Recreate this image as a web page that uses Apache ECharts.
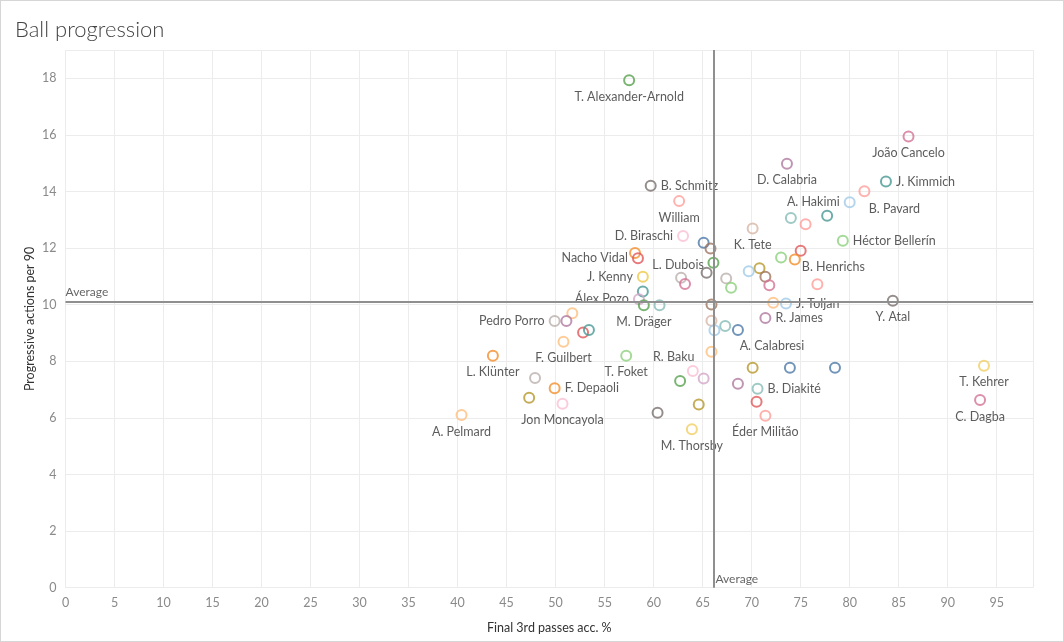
<!DOCTYPE html>
<html>
<head>
<meta charset="utf-8">
<script src="https://cdn.jsdelivr.net/npm/echarts@6/dist/echarts.min.js"></script>
<style>
html,body{margin:0;padding:0;background:#fff;}
#frame{position:absolute;left:0;top:0;width:1062px;height:640px;border:1px solid #d6d6d6;}
#chart{position:absolute;left:0;top:0;width:1064px;height:642px;}
</style>
</head>
<body>
<div id="frame"></div>
<div id="chart"></div>
<script>
// ---- data ----
const players = ["T. Alexander-Arnold","João Cancelo","D. Calabria","J. Kimmich","B. Schmitz","B. Pavard","A. Hakimi","William","","","","K. Tete","Héctor Bellerín","D. Biraschi","","","","Nacho Vidal","","","B. Henrichs","L. Dubois","","","","","","J. Kenny","","","","","","","Álex Pozo","M. Dräger","","","","J. Toljan","Y. Atal","","Pedro Porro","","","","F. Guilbert","","","","A. Calabresi","R. James","L. Klünter","T. Foket","R. Baku","","","","","","","","B. Diakité","","","","Éder Militão","M. Thorsby","","F. Depaoli","","Jon Moncayola","A. Pelmard","T. Kehrer","C. Dagba"];
const finalThirdPassAcc = [57.5,86.0,73.6,83.7,59.7,81.5,80.0,62.6,77.7,74.0,75.5,70.1,79.3,63.0,65.1,65.8,58.1,58.4,66.1,75.0,74.4,62.8,73.0,70.8,69.7,71.4,65.4,58.9,67.4,63.2,71.8,76.7,67.9,58.9,58.5,59.0,60.6,65.9,72.2,73.5,84.4,51.7,49.9,51.1,52.8,53.4,50.8,65.9,66.2,67.3,68.6,71.4,43.6,57.2,65.9,64.0,65.1,62.7,70.1,73.9,78.5,68.6,70.6,70.5,64.6,60.4,71.4,63.9,47.9,49.9,47.3,50.7,40.4,93.7,93.3];
const progActionsPer90 = [17.93,15.94,14.98,14.35,14.20,14.01,13.62,13.66,13.14,13.06,12.84,12.69,12.26,12.43,12.19,11.99,11.83,11.64,11.48,11.91,11.60,10.95,11.67,11.29,11.18,10.99,11.13,10.99,10.93,10.73,10.69,10.72,10.60,10.47,10.19,9.98,9.98,10.01,10.07,10.04,10.14,9.70,9.42,9.42,9.02,9.11,8.69,9.43,9.10,9.25,9.11,9.53,8.20,8.20,8.34,7.66,7.39,7.30,7.77,7.77,7.77,7.21,7.03,6.57,6.47,6.18,6.08,5.60,7.41,7.05,6.71,6.50,6.10,7.84,6.63];
const averageX = 66.1;
const averageY = 10.11;
const xTicks = {min: 0, max: 98.7, interval: 5};
const yTicks = {min: 0, max: 19, interval: 2};

// ---- styles ----
const pointColors = ["#59a14f","#d37295","#b07aa1","#499894","#79706e","#ff9d9a","#a0cbe8","#ff9d9a","#499894","#86bcb6","#ff9d9a","#d7b5a6","#8cd17d","#fabfd2","#4e79a7","#9d7660","#f28e2b","#e15759","#59a14f","#e15759","#f28e2b","#bab0ac","#8cd17d","#b6992d","#a0cbe8","#9d7660","#79706e","#edc948","#bab0ac","#d37295","#d37295","#ff9d9a","#8cd17d","#499894","#d4a6c8","#59a14f","#86bcb6","#9d7660","#ffbe7d","#a0cbe8","#79706e","#ffbe7d","#bab0ac","#b07aa1","#e15759","#499894","#ffbe7d","#d7b5a6","#a0cbe8","#86bcb6","#4e79a7","#b07aa1","#f28e2b","#8cd17d","#ffbe7d","#fabfd2","#d4a6c8","#59a14f","#b6992d","#4e79a7","#4e79a7","#b07aa1","#86bcb6","#e15759","#b6992d","#79706e","#ff9d9a","#f1ce63","#bab0ac","#f28e2b","#b6992d","#fabfd2","#ffbe7d","#f1ce63","#d37295"];
const labelPlacement = {
  "J. Kimmich": ["right"], "B. Schmitz": ["right"], "Héctor Bellerín": ["right"],
  "J. Toljan": ["right"], "R. James": ["right"], "B. Diakité": ["right"], "F. Depaoli": ["right"],
  "B. Henrichs": ["right", [-3, 8]],
  "A. Hakimi": ["left"], "D. Biraschi": ["left"], "Nacho Vidal": ["left"], "J. Kenny": ["left"],
  "Álex Pozo": ["left"], "Pedro Porro": ["left"], "R. Baku": ["left", [-7, 5]],
  "B. Pavard": ["bottom", [30, 1]], "A. Calabresi": ["bottom", [34, 0]],
  "L. Dubois": ["top", [-3, 4]]
};

const FONT = "Lato, 'Open Sans', sans-serif";
const data = players.map((n, i) => {
  const pl = labelPlacement[n] || ["bottom"];
  return {
    name: n,
    value: [finalThirdPassAcc[i], progActionsPer90[i]],
    itemStyle: {color: 'rgba(255,255,255,0)', borderColor: pointColors[i], borderWidth: 2},
    label: {show: n !== "", position: pl[0], distance: 4}
  };
});

const chart = echarts.init(document.getElementById('chart'), null, {renderer: 'canvas'});
chart.setOption({
  animation: false,
  backgroundColor: 'transparent',
  title: {text: 'Ball progression', left: 10, top: 14,
    textStyle: {fontFamily: FONT, fontSize: 22, fontWeight: 300, color: '#444'}},
  grid: {left: 65.5, right: 31, top: 50, bottom: 54.3},
  xAxis: {
    type: 'value', min: xTicks.min, max: xTicks.max, interval: xTicks.interval,
    name: 'Final 3rd passes acc. %', nameLocation: 'middle', nameGap: 34,
    nameTextStyle: {fontFamily: FONT, fontSize: 12.5, color: '#333'},
    axisLine: {show: false}, axisTick: {show: false},
    axisLabel: {showMaxLabel: false, color: '#8a8a8a', fontFamily: FONT, fontSize: 12.5, margin: 9},
    splitLine: {show: true, lineStyle: {color: '#ececec', width: 1}}
  },
  yAxis: {
    type: 'value', min: yTicks.min, max: yTicks.max, interval: yTicks.interval,
    name: 'Progressive actions per 90', nameLocation: 'middle', nameGap: 29, nameMoveOverlap: false,
    nameTextStyle: {fontFamily: FONT, fontSize: 12.5, color: '#333'},
    axisLine: {show: false}, axisTick: {show: false},
    axisLabel: {showMaxLabel: false, color: '#8a8a8a', fontFamily: FONT, fontSize: 12.5, margin: 9},
    splitLine: {show: true, lineStyle: {color: '#ececec', width: 1}}
  },
  series: [{
    type: 'scatter',
    symbol: 'circle',
    symbolSize: 10,
    data: data,
    label: {formatter: '{b}', color: '#333', fontFamily: FONT, fontSize: 12.5},
    labelLayout: function (params) {
      const n = players[params.dataIndex];
      const pl = labelPlacement[n];
      const off = (pl && pl[1]) || [0, 0];
      return {dx: off[0], dy: off[1], hideOverlap: false};
    },
    emphasis: {disabled: true},
    markLine: {
      silent: true, symbol: 'none', animation: false,
      lineStyle: {color: '#8f8f8f', width: 2, type: 'solid'},
      data: [
        {xAxis: averageX, label: {show: false}},
        {yAxis: averageY, label: {show: true, formatter: 'Average', position: 'insideStartTop',
          distance: [0, 3], color: '#666', fontFamily: FONT, fontSize: 12}}
      ]
    },
    markPoint: {
      silent: true, symbol: 'circle', symbolSize: 0,
      data: [{coord: [averageX, yTicks.min], value: 'Average',
        label: {show: true, formatter: 'Average', position: 'right', offset: [0, -9], distance: 2,
          color: '#666', fontFamily: FONT, fontSize: 12}}]
    }
  }]
});
</script>
</body>
</html>
